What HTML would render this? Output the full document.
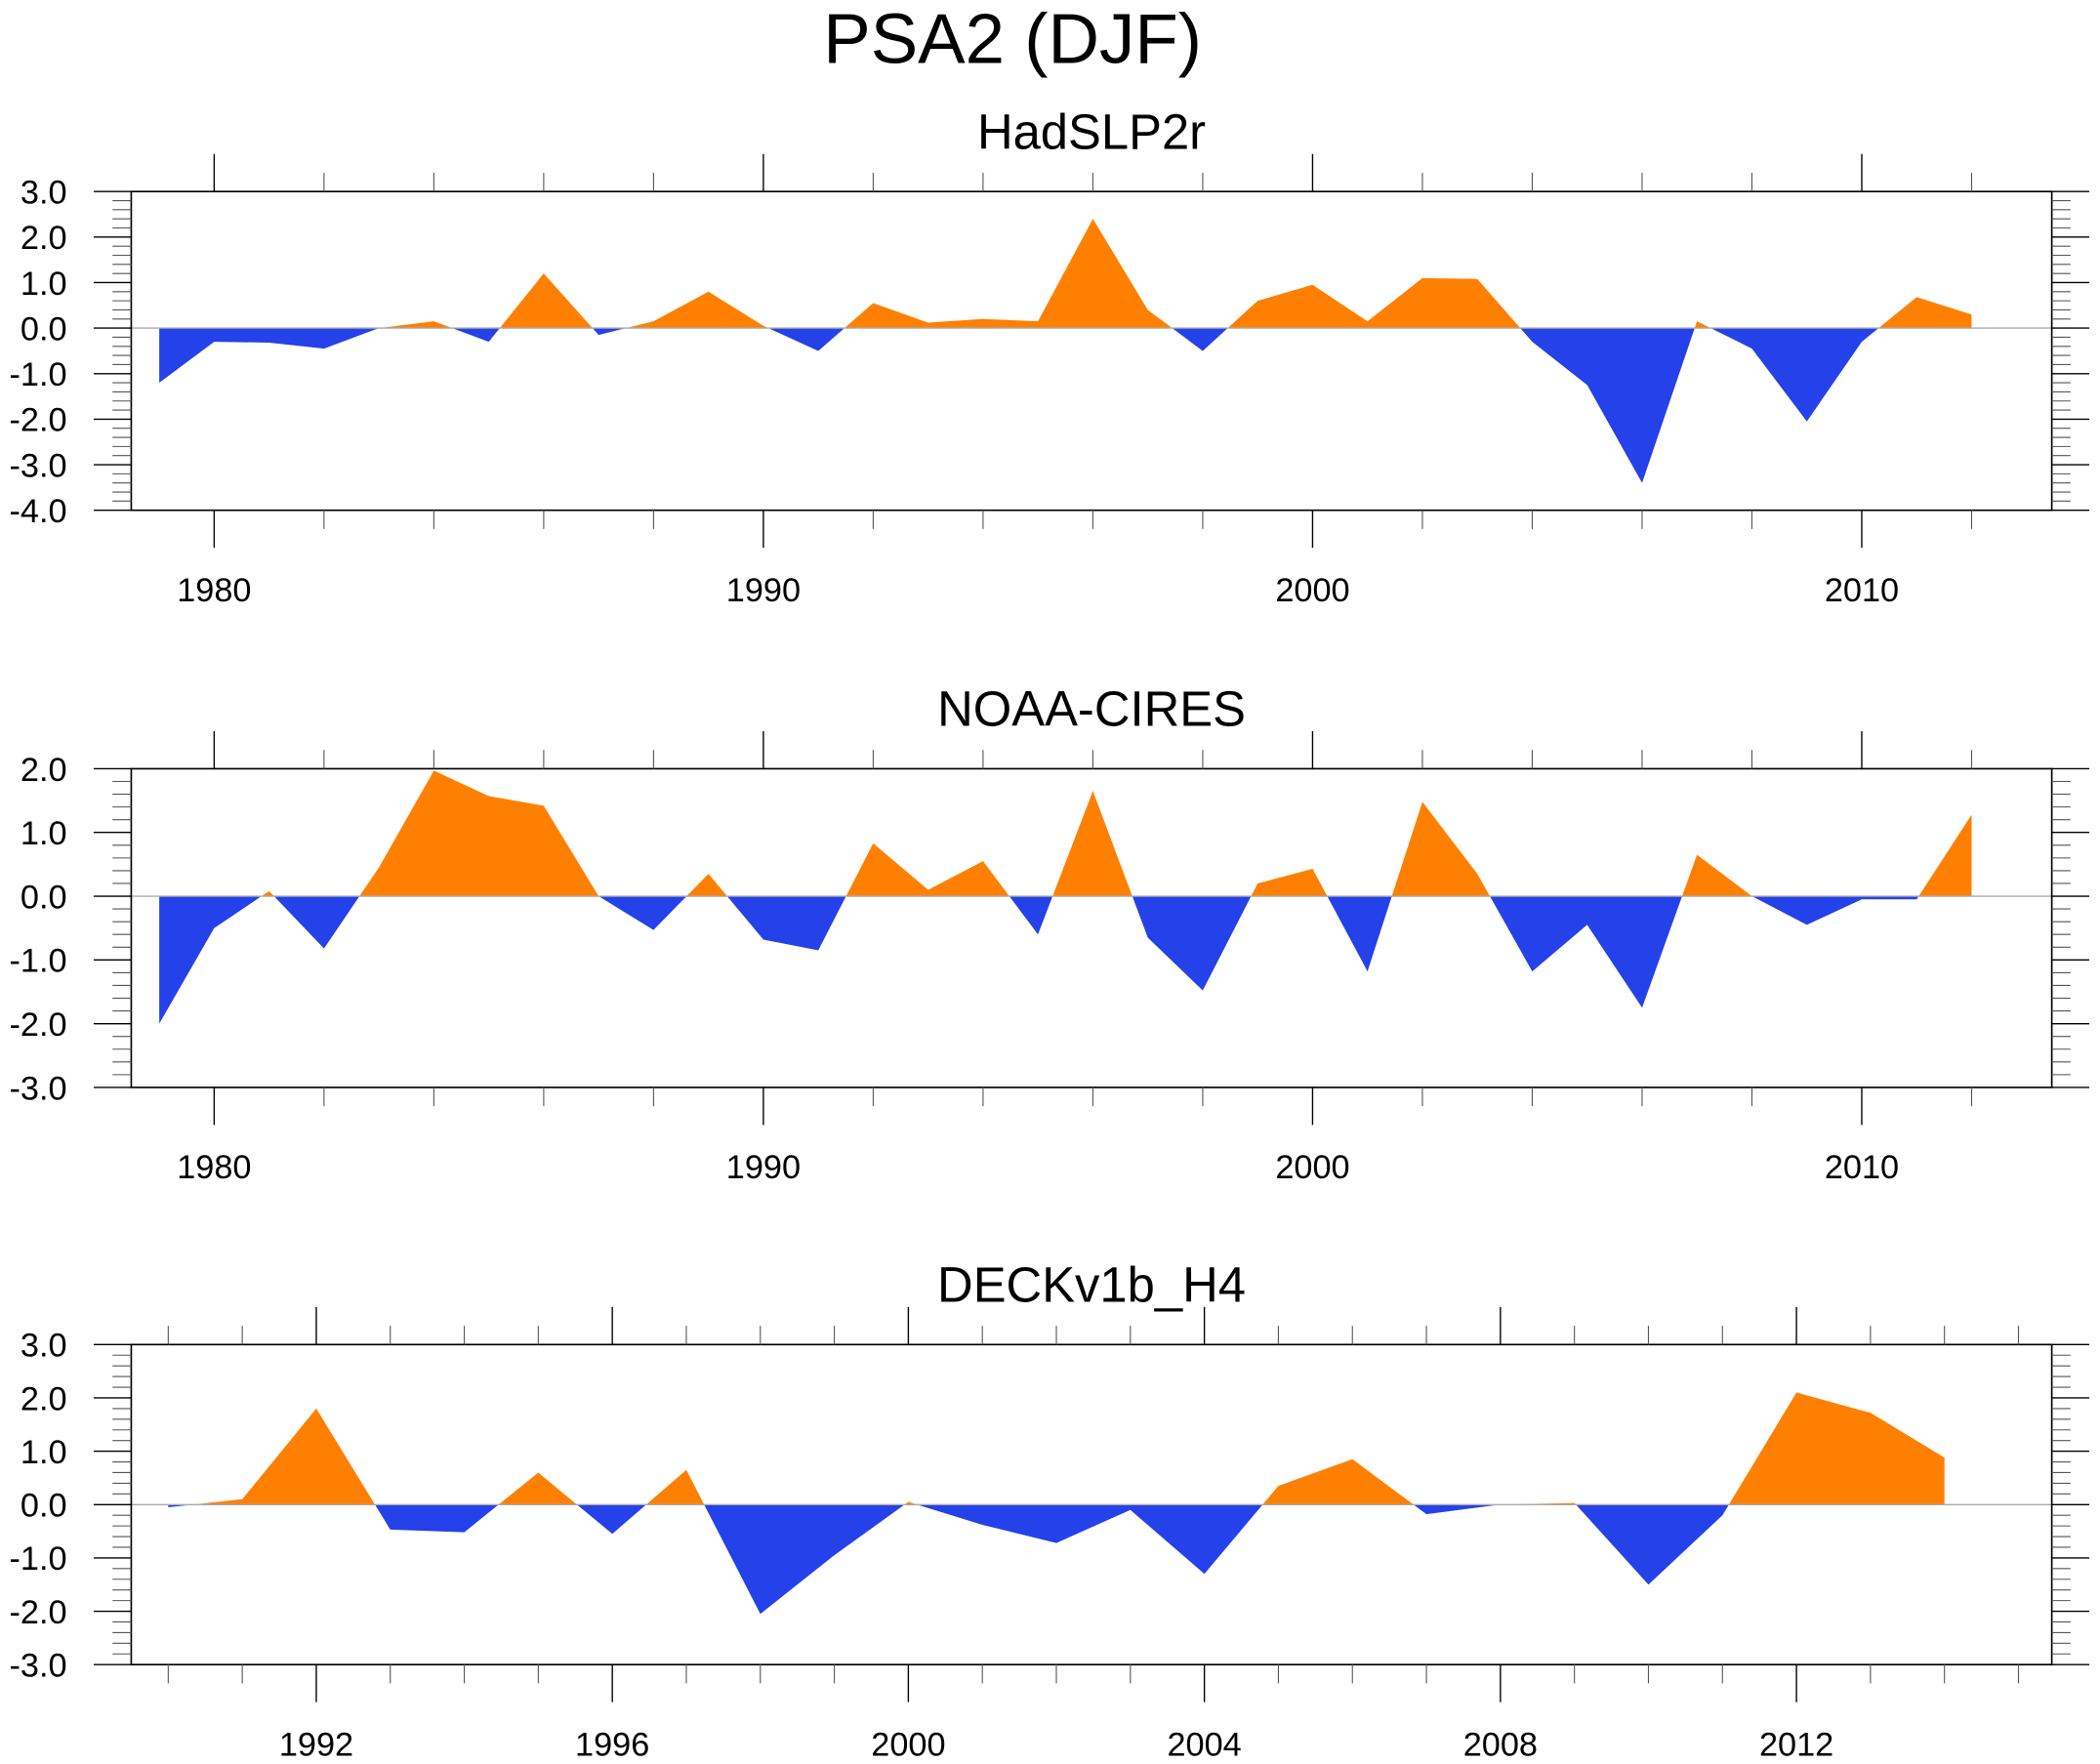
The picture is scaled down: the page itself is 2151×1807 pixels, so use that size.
<!DOCTYPE html>
<html><head><meta charset="utf-8"><style>html,body{margin:0;padding:0;background:#fff}svg{display:block}</style></head>
<body>
<svg id="c" width="2151" height="1807" viewBox="0 0 1568 1317.2" xmlns="http://www.w3.org/2000/svg" font-family="Liberation Sans, sans-serif">
<text x="756" y="47" font-size="53" text-anchor="middle">PSA2 (DJF)</text>
</svg>
<script>
const years1 = [1979,1980,1981,1982,1983,1984,1985,1986,1987,1988,1989,1990,1991,1992,1993,1994,1995,1996,1997,1998,1999,2000,2001,2002,2003,2004,2005,2006,2007,2008,2009,2010,2011,2012];
const hadValues = [-1.2,-0.3,-0.32,-0.45,0.0,0.15,-0.3,1.2,-0.15,0.15,0.8,0.05,-0.5,0.55,0.12,0.2,0.15,2.4,0.4,-0.5,0.6,0.95,0.15,1.1,1.08,-0.3,-1.25,-3.4,0.15,-0.45,-2.05,-0.3,0.68,0.3];
const noaaValues = [-2.0,-0.5,0.08,-0.82,0.45,1.97,1.57,1.42,0.0,-0.53,0.35,-0.68,-0.85,0.83,0.1,0.55,-0.6,1.65,-0.65,-1.48,0.2,0.43,-1.18,1.48,0.35,-1.18,-0.45,-1.75,0.65,0.0,-0.45,-0.05,-0.05,1.28];
const years3 = [1990,1991,1992,1993,1994,1995,1996,1997,1998,1999,2000,2001,2002,2003,2004,2005,2006,2007,2008,2009,2010,2011,2012,2013,2014];
const deckValues = [-0.05,0.1,1.8,-0.47,-0.52,0.6,-0.55,0.65,-2.05,-0.95,0.05,-0.38,-0.72,-0.1,-1.3,0.35,0.85,-0.18,0.0,0.03,-1.5,-0.2,2.1,1.72,0.88];
const titles = ["HadSLP2r","NOAA-CIRES","DECKv1b_H4"];
const yTicks1 = ["3.0","2.0","1.0","0.0","-1.0","-2.0","-3.0","-4.0"];
const yTicks2 = ["2.0","1.0","0.0","-1.0","-2.0","-3.0"];
const yTicks3 = ["3.0","2.0","1.0","0.0","-1.0","-2.0","-3.0"];
const xTicks12 = ["1980","1990","2000","2010"];
const xTicks3 = ["1992","1996","2000","2004","2008","2012"];

const NS="http://www.w3.org/2000/svg";
const svg=document.getElementById('c');
function mk(tag,attrs,parent){const e=document.createElementNS(NS,tag);for(const k in attrs)e.setAttribute(k,attrs[k]);(parent||svg).appendChild(e);return e;}

function panel(cfg){
  const L=98,R=1532,T=cfg.top,B=cfg.bot;
  const g=mk('g',{});
  
  
  const ymax=parseFloat(cfg.yt[0]), ymin=parseFloat(cfg.yt[cfg.yt.length-1]);
  const xs=v=>L+(v-cfg.x0)/(cfg.x1-cfg.x0)*(R-L);
  const ys=v=>T+(ymax-v)/(ymax-ymin)*(B-T);
  const t=mk('text',{x:815,y:T-32,'font-size':37,'text-anchor':'middle'},g);
  t.textContent=cfg.title;
  
  
  const yr=cfg.years, v=cfg.vals;
  function region(pos){
    let pts=[];
    for(let i=0;i<yr.length;i++){
      const a=v[i];
      const va=pos?Math.max(a,0):Math.min(a,0);
      pts.push([xs(yr[i]),ys(va)]);
      if(i<yr.length-1){
        const b=v[i+1];
        if((a>0&&b<0)||(a<0&&b>0)){
          const f=a/(a-b);
          pts.push([xs(yr[i]+f*(yr[i+1]-yr[i])),ys(0)]);
        }
      }
    }
    pts.push([xs(yr[yr.length-1]),ys(0)]);
    pts.push([xs(yr[0]),ys(0)]);
    return pts.map(p=>p[0].toFixed(2)+','+p[1].toFixed(2)).join(' ');
  }
  const pp=mk('polygon',{points:region(true),fill:'#ff8000'},g);
  
  
  const np=mk('polygon',{points:region(false),fill:'#2541ea'},g);
  
  
  const z=mk('line',{x1:L,x2:R,y1:ys(0),y2:ys(0),stroke:'#aaa','stroke-width':1},g);
  
  
  const fr=mk('rect',{x:L,y:T,width:R-L,height:B-T,fill:'none',stroke:'#000','stroke-width':1.2},g);
  
  
  let path='', mpath='';
  for(let k=Math.round(ymin*5);k<=Math.round(ymax*5);k++){
    const y=ys(k/5);
    if(k%5===0) path+=`M${L} ${y}h-28M${R} ${y}h28`;
    else mpath+=`M${L} ${y}h-14M${R} ${y}h14`;
  }
  cfg.yt.forEach(s=>{
    const tx=mk('text',{x:50,y:ys(parseFloat(s))+9,'font-size':25,'text-anchor':'end'},g);
    tx.textContent=s;
    
    
  });
  for(let yv=Math.ceil(cfg.x0);yv<=cfg.x1;yv++){
    const isMaj=(yv%cfg.maj===0), isMin=(yv%cfg.min===0);
    if(!isMaj&&!isMin) continue;
    const x=xs(yv);
    if(isMaj) path+=`M${x} ${T}v-28M${x} ${B}v28`;
    else mpath+=`M${x} ${T}v-14M${x} ${B}v14`;
  }
  const tk=mk('path',{d:path,stroke:'#000','stroke-width':1,fill:'none'},g);
  
  
  const mk2=mk('path',{d:mpath,stroke:'#555','stroke-width':0.8,fill:'none'},g);
  
  
  cfg.xt.forEach(s=>{
    const tx=mk('text',{x:xs(parseFloat(s)),y:B+68,'font-size':25,'text-anchor':'middle'},g);
    tx.textContent=s;
    
    
  });
}
panel({name:'hadslp2r',title:titles[0],top:143,bot:381,x0:1978.49,x1:2013.46,years:years1,vals:hadValues,yt:yTicks1,xt:xTicks12,maj:10,min:2});
panel({name:'noaa-cires',title:titles[1],top:574,bot:812,x0:1978.49,x1:2013.46,years:years1,vals:noaaValues,yt:yTicks2,xt:xTicks12,maj:10,min:2});
panel({name:'deckv1b-h4',title:titles[2],top:1004,bot:1243,x0:1989.5,x1:2015.45,years:years3,vals:deckValues,yt:yTicks3,xt:xTicks3,maj:4,min:1});
</script>
</body></html>
